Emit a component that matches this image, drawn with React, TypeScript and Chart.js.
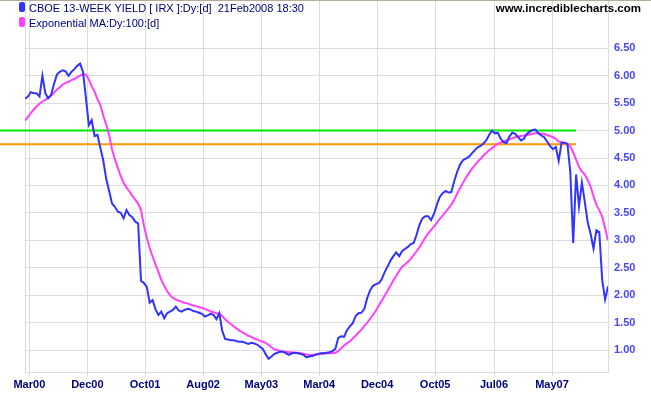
import { useEffect, useRef } from "react";
import { Chart, registerables } from "chart.js";

Chart.register(...registerables);

// x axis: sample index (about 10 trading days per step)
const tickLabels = ["Mar00", "Dec00", "Oct01", "Aug02", "May03", "Mar04", "Dec04", "Oct05", "Jul06", "May07"];
const tickPositions = [1.5, 21.5, 41.4, 61.4, 81.5, 101.4, 121.4, 141.4, 161.7, 181.7];
const yTicks = [1.0, 1.5, 2.0, 2.5, 3.0, 3.5, 4.0, 4.5, 5.0, 5.5, 6.0, 6.5];

const yieldValues = [
  5.58, 5.62, 5.70, 5.68, 5.68, 5.62, 6.00, 5.68, 5.59, 5.65,
  5.85, 6.02, 6.07, 6.10, 6.08, 6.00, 6.07, 6.12, 6.18, 6.22,
  6.07, 5.60, 5.10, 5.19, 4.90, 4.92, 4.68, 4.45, 4.12, 3.90,
  3.67, 3.61, 3.52, 3.50, 3.40, 3.55, 3.46, 3.42, 3.34, 3.31,
  2.26, 2.22, 2.15, 1.86, 1.91, 1.74, 1.64, 1.70, 1.58, 1.67,
  1.70, 1.73, 1.79, 1.72, 1.70, 1.73, 1.75, 1.74, 1.71, 1.70,
  1.68, 1.66, 1.61, 1.63, 1.66, 1.64, 1.56, 1.67, 1.35, 1.20,
  1.19, 1.18, 1.18, 1.16, 1.15, 1.15, 1.13, 1.11, 1.13, 1.12,
  1.10, 1.06, 1.02, 0.92, 0.84, 0.88, 0.93, 0.95, 0.97, 0.97,
  0.94, 0.91, 0.94, 0.95, 0.94, 0.93, 0.91, 0.87, 0.88, 0.89,
  0.91, 0.93, 0.94, 0.94, 0.95, 0.96, 0.98, 1.02, 1.22, 1.25,
  1.24, 1.36, 1.43, 1.49, 1.62, 1.67, 1.68, 1.75, 1.95, 2.09,
  2.17, 2.20, 2.22, 2.29, 2.42, 2.52, 2.63, 2.71, 2.78, 2.71,
  2.80, 2.84, 2.88, 2.93, 2.95, 3.10, 3.28, 3.40, 3.44, 3.44,
  3.37, 3.48, 3.65, 3.79, 3.86, 3.90, 3.87, 3.88, 4.08, 4.25,
  4.38, 4.46, 4.49, 4.52, 4.58, 4.64, 4.69, 4.72, 4.76, 4.82,
  4.92, 5.00, 4.95, 4.96, 4.85, 4.79, 4.77, 4.89, 4.96, 4.94,
  4.88, 4.82, 4.85, 4.94, 4.98, 5.01, 5.02, 4.95, 4.91, 4.88,
  4.80, 4.72, 4.66, 4.70, 4.45, 4.78, 4.78, 4.76, 4.25, 2.95,
  4.20, 3.62, 4.05, 3.70, 3.33, 3.12, 2.85, 3.18, 3.15, 2.28,
  1.92, 2.16,
];

const emaValues = [
  5.18, 5.25, 5.32, 5.38, 5.44, 5.49, 5.53, 5.56, 5.60, 5.64,
  5.69, 5.75, 5.79, 5.84, 5.87, 5.89, 5.92, 5.94, 5.97, 6.00,
  6.03, 6.02, 5.93, 5.81, 5.71, 5.57, 5.46, 5.27, 5.11, 4.92,
  4.66, 4.48, 4.32, 4.17, 4.05, 3.96, 3.89, 3.81, 3.74, 3.67,
  3.55, 3.27, 3.05, 2.86, 2.70, 2.56, 2.42, 2.28, 2.17, 2.07,
  2.00, 1.95, 1.92, 1.90, 1.88, 1.86, 1.85, 1.83, 1.81, 1.80,
  1.78, 1.77, 1.75, 1.73, 1.70, 1.69, 1.67, 1.66, 1.62, 1.56,
  1.51, 1.47, 1.43, 1.39, 1.35, 1.32, 1.29, 1.26, 1.24, 1.21,
  1.19, 1.17, 1.15, 1.13, 1.09, 1.05, 1.01, 1.00, 0.98, 0.97,
  0.97, 0.96, 0.96, 0.95, 0.95, 0.94, 0.93, 0.92, 0.91, 0.91,
  0.92, 0.92, 0.93, 0.93, 0.94, 0.94, 0.94, 0.95, 0.98, 1.03,
  1.08, 1.12, 1.16, 1.21, 1.26, 1.32, 1.37, 1.44, 1.50, 1.57,
  1.64, 1.72, 1.81, 1.90, 1.99, 2.08, 2.17, 2.27, 2.35, 2.44,
  2.52, 2.56, 2.61, 2.66, 2.73, 2.80, 2.87, 2.96, 3.05, 3.12,
  3.19, 3.25, 3.32, 3.39, 3.45, 3.52, 3.58, 3.65, 3.74, 3.85,
  3.95, 4.05, 4.14, 4.22, 4.30, 4.36, 4.43, 4.48, 4.54, 4.59,
  4.64, 4.68, 4.72, 4.76, 4.78, 4.80, 4.82, 4.84, 4.86, 4.88,
  4.89, 4.90, 4.91, 4.92, 4.93, 4.94, 4.95, 4.95, 4.94, 4.94,
  4.92, 4.90, 4.88, 4.85, 4.80, 4.79, 4.77, 4.75, 4.71, 4.60,
  4.47, 4.34, 4.25, 4.20, 4.10, 3.98, 3.80, 3.65, 3.55, 3.43,
  3.22, 3.00,
];

const levelValues = [5.0, 4.75];
const levelColors = ["#00e800", "#ff9900"];
const levelEnd = 190;

const GRID = "#dcdcdc";
const FONT = "'Liberation Sans', Arial, sans-serif";

const framePlugin = {
  id: "frame",
  beforeDatasetsDraw(chart: any) {
    const { ctx, chartArea, scales } = chart;
    ctx.save();
    ctx.strokeStyle = GRID;
    ctx.lineWidth = 1;
    ctx.beginPath();
    ctx.moveTo(chartArea.left + 0.5, chartArea.top);
    ctx.lineTo(chartArea.left + 0.5, chartArea.bottom);
    ctx.stroke();
    levelValues.forEach((v, k) => {
      const y = scales.y.getPixelForValue(v);
      ctx.strokeStyle = levelColors[k];
      ctx.lineWidth = 2;
      ctx.beginPath();
      ctx.moveTo(0, y);
      ctx.lineTo(scales.x.getPixelForValue(levelEnd), y);
      ctx.stroke();
    });
    ctx.restore();
  },
  afterDraw(chart: any) {
    const { ctx } = chart;
    ctx.save();
    ctx.fillStyle = "#b4ab98";
    ctx.fillRect(0, 0, chart.width, 1);
    ctx.restore();
  },
};

export default function App() {
  const ref = useRef<HTMLCanvasElement | null>(null);

  useEffect(() => {
    if (!ref.current) return;
    const chart = new Chart(ref.current, {
      type: "line",
      data: {
        datasets: [
          {
            label: "CBOE 13-WEEK YIELD",
            data: yieldValues.map((v, i) => ({ x: i, y: v })),
            borderColor: "#3333ff",
            borderWidth: 2,
            pointRadius: 0,
            tension: 0,
            order: 1,
          },
          {
            label: "Exponential MA",
            data: emaValues.map((v, i) => ({ x: i, y: v })),
            borderColor: "#ff40ff",
            borderWidth: 2,
            pointRadius: 0,
            tension: 0,
            order: 2,
          },
        ],
      },
      options: {
        animation: false,
        responsive: false,
        maintainAspectRatio: false,
        layout: { padding: { left: 25, top: 1, right: 0, bottom: 0 } },
        plugins: { legend: { display: false }, tooltip: { enabled: false } },
        scales: {
          x: {
            type: "linear",
            min: 0,
            max: 201,
            afterBuildTicks: (s: any) => {
              s.ticks = tickPositions.map((v) => ({ value: v }));
            },
            afterFit: (s: any) => {
              s.height = 23;
              s.paddingLeft = 0;
              s.paddingRight = 0;
            },
            ticks: {
              autoSkip: false,
              maxRotation: 0,
              padding: 2,
              color: "#000080",
              font: { family: FONT, size: 11, weight: "bold" },
              callback: (_v: any, i: number) => tickLabels[i],
            },
            grid: { color: GRID, tickLength: 4, drawTicks: true },
            border: { color: GRID },
          },
          y: {
            type: "linear",
            position: "right",
            min: 0.599,
            max: 7.362,
            afterBuildTicks: (s: any) => {
              s.ticks = yTicks.map((v) => ({ value: v }));
            },
            afterFit: (s: any) => {
              s.width = 43;
              s.paddingTop = 0;
              s.paddingBottom = 0;
            },
            ticks: {
              padding: 6,
              color: "#4646ff",
              font: { family: FONT, size: 11, weight: "bold" },
              callback: (v: any) => Number(v).toFixed(2),
            },
            grid: { color: GRID, drawTicks: false },
            border: { color: GRID },
          },
        },
      },
      plugins: [framePlugin],
    });
    return () => chart.destroy();
  }, []);

  const legendText: any = {
    position: "absolute",
    left: 29,
    fontFamily: FONT,
    fontSize: 11,
    color: "#000080",
    whiteSpace: "pre",
    lineHeight: "14px",
  };
  const marker: any = {
    position: "absolute",
    left: 19,
    width: 6,
    height: 10,
    borderRadius: 2,
  };

  return (
    <div style={{ position: "absolute", left: 0, top: 0, width: 651, height: 395, background: "#fff" }}>
      <canvas ref={ref} width={651} height={395} style={{ width: 651, height: 395, display: "block" }} />
      <div style={{ ...marker, top: 2, background: "#3333ff" }} />
      <div style={{ ...legendText, top: 1 }}>{"CBOE 13-WEEK YIELD [ IRX ]:Dy:[d]  21Feb2008 18:30"}</div>
      <div style={{ ...marker, top: 17, background: "#ff40ff" }} />
      <div style={{ ...legendText, top: 16 }}>{"Exponential MA:Dy:100:[d]"}</div>
      <div
        style={{
          position: "absolute",
          right: 10,
          top: 1,
          fontFamily: FONT,
          fontSize: 11.5,
          fontWeight: "bold",
          color: "#000",
          lineHeight: "14px",
          whiteSpace: "pre",
        }}
      >
        www.incrediblecharts.com
      </div>
    </div>
  );
}
